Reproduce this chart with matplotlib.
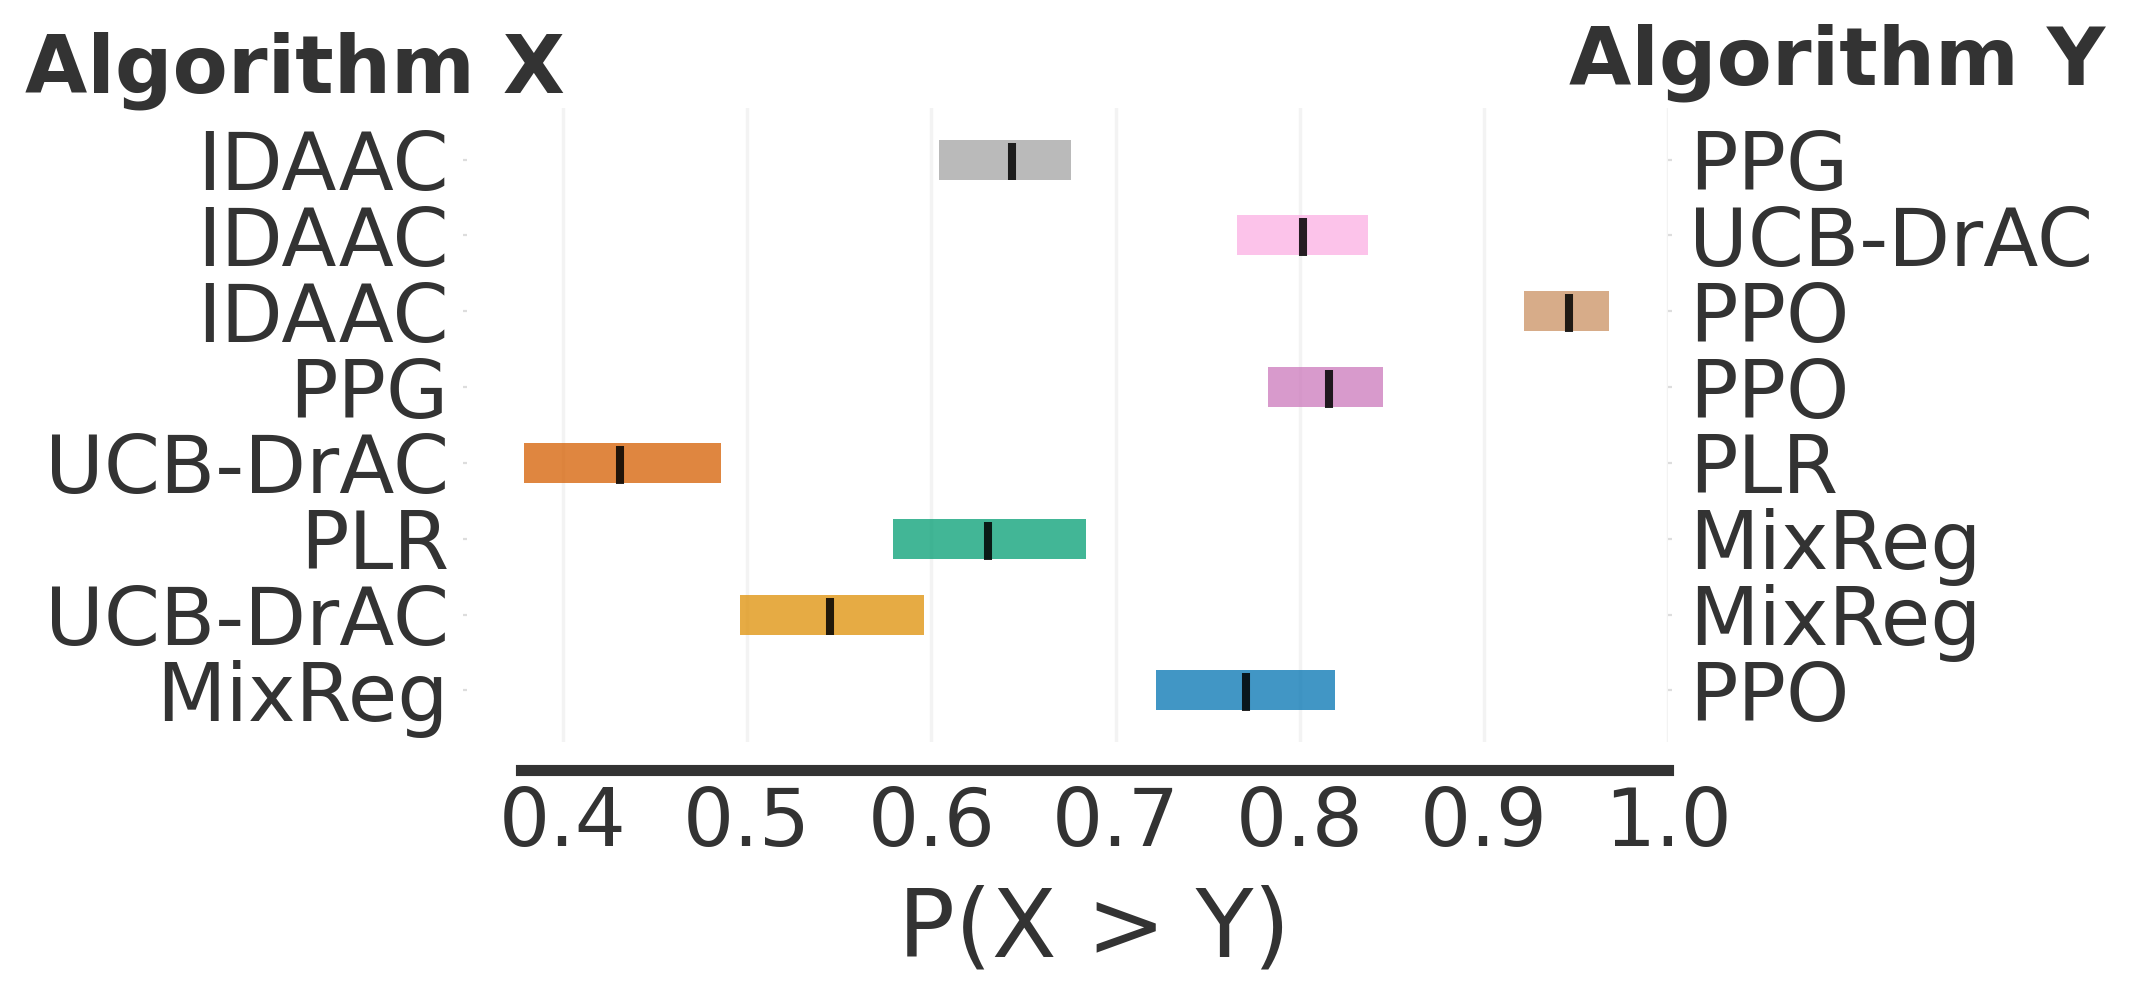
import numpy as np
import matplotlib.pyplot as plt

# pairs, listed top to bottom as shown in the chart
algo_x = ["IDAAC", "IDAAC", "IDAAC", "PPG", "UCB-DrAC", "PLR", "UCB-DrAC", "MixReg"]
algo_y = ["PPG", "UCB-DrAC", "PPO", "PPO", "PLR", "MixReg", "MixReg", "PPO"]
lower = [0.604, 0.766, 0.922, 0.783, 0.379, 0.579, 0.496, 0.722]
upper = [0.676, 0.837, 0.968, 0.845, 0.486, 0.684, 0.596, 0.819]
median = [0.644, 0.802, 0.946, 0.816, 0.431, 0.631, 0.545, 0.771]
xticks = [0.4, 0.5, 0.6, 0.7, 0.8, 0.9, 1.0]

# colorblind-like palette, first colour at the bottom row
palette = ['#0173b2', '#de8f05', '#029e73', '#d55e00', '#cc78bc',
           '#ca9161', '#fbafe4', '#a3a3a3']

txt = '#333333'
plt.rcParams['font.family'] = 'DejaVu Sans'

fig = plt.figure(figsize=(10.66, 4.985), dpi=200)
ax = fig.add_axes([0.2442, 0.2558, 0.5382, 0.6359])

n = len(algo_x)
ypos = np.arange(n)[::-1]  # top row gets the largest y
for i in range(n):
    col = palette[ypos[i]]
    ax.barh(ypos[i], upper[i] - lower[i], left=lower[i], height=0.527,
            color=col, alpha=0.75, linewidth=0)
    ax.vlines(median[i], ypos[i] - 0.276, ypos[i] + 0.224, color='k',
              alpha=0.85, linewidth=2.9)

ax.set_xlim(0.377, 1.0)
ax.set_ylim(-0.68, n - 1 + 0.68)
ax.set_xticks(xticks)
ax.set_xticklabels([f"{t:.1f}" for t in xticks])
ax.set_yticks(ypos)
ax.set_yticklabels(algo_x)
ax.grid(axis='x', color='#f3f3f3', linewidth=1.2)
ax.set_axisbelow(True)

for s in ['top', 'right', 'left']:
    ax.spines[s].set_visible(False)
ax.spines['left'].set_position(('outward', 19.3))
ax.spines['bottom'].set_position(('outward', 10))
ax.spines['bottom'].set_linewidth(4)
ax.spines['bottom'].set_color(txt)
ax.tick_params(axis='y', length=1.5, color='#dddddd', pad=5,
               labelsize=29, labelcolor=txt)
ax.tick_params(axis='x', length=0, pad=5.4, labelsize=29, labelcolor=txt)
ax.set_xlabel("P(X > Y)", fontsize=34, color=txt, labelpad=8)

ax2 = ax.twinx()
ax2.set_ylim(ax.get_ylim())
ax2.set_yticks(ypos)
ax2.set_yticklabels(algo_y)
for s in ax2.spines.values():
    s.set_visible(False)
ax2.tick_params(axis='y', length=1.5, color='#dddddd', pad=6,
                labelsize=29, labelcolor=txt)

fig.text(25 / 2132, 1 - 92 / 997, "Algorithm X", fontsize=29,
         fontweight='bold', color=txt, ha='left', va='baseline')
fig.text(2105 / 2132, 1 - 85 / 997, "Algorithm Y", fontsize=29,
         fontweight='bold', color=txt, ha='right', va='baseline')

fig.savefig("out.png", dpi=200)
